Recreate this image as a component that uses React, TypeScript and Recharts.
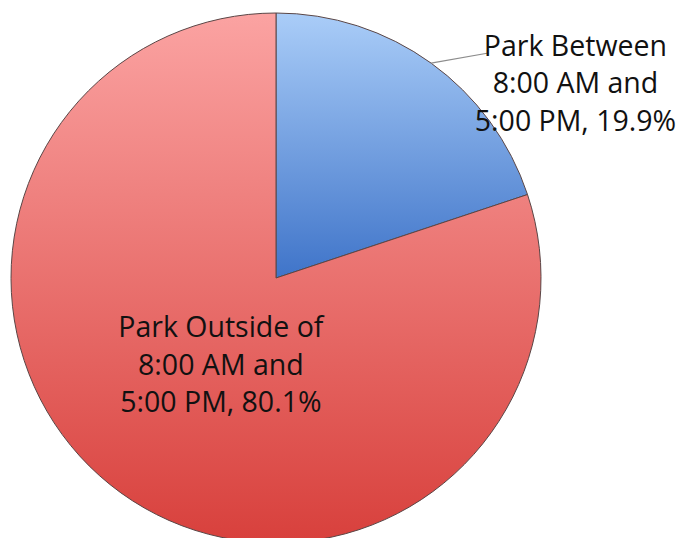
import React from 'react';
import { PieChart, Pie, Cell } from 'recharts';

const categories = ['Park Between 8:00 AM and 5:00 PM', 'Park Outside of 8:00 AM and 5:00 PM'];
const shares = [19.9, 80.1];
const labelLines = [
  ['Park Between', '8:00 AM and', '5:00 PM, 19.9%'],
  ['Park Outside of', '8:00 AM and', '5:00 PM, 80.1%'],
];
const gradients = [
  { id: 'blueFill', top: '#aacdf8', bottom: '#3f74c9' },
  { id: 'redFill', top: '#fba3a2', bottom: '#d8403c' },
];

const data = categories.map((name, i) => ({ name, value: shares[i] }));

// label offsets from the pie centre, in units of the outer radius
const labelPos = [
  { x: 1.13, y: -0.698 },
  { x: -0.208, y: 0.366 },
];

const RADIAN = Math.PI / 180;

function renderLabel(props: any) {
  const { cx, cy, outerRadius, midAngle, index } = props;
  const pos = labelPos[index];
  const tx = cx + pos.x * outerRadius;
  const ty = cy + pos.y * outerRadius;
  const lines = labelLines[index];
  const lineH = 37.5;
  let leader = null;
  if (index === 0) {
    const sx = cx + outerRadius * Math.cos(-midAngle * RADIAN);
    const sy = cy + outerRadius * Math.sin(-midAngle * RADIAN);
    leader = (
      <line x1={sx} y1={sy} x2={tx - 87} y2={ty - 40} stroke="#8c8c8c" strokeWidth={1.2} />
    );
  }
  return (
    <g>
      {leader}
      <text
        x={tx}
        y={ty}
        textAnchor="middle"
        fill="#111"
        fontSize={28.5}
        fontFamily="'Open Sans', sans-serif"
      >
        {lines.map((t, i) => (
          <tspan key={i} x={tx} y={ty + (i - 1) * lineH}>
            {t}
          </tspan>
        ))}
      </text>
    </g>
  );
}

export default function App() {
  return (
    <div style={{ position: 'absolute', left: 0, top: 0, background: '#fff' }}>
      <PieChart width={679} height={538} margin={{ top: 0, right: 0, bottom: 0, left: 0 }}>
        <defs>
          {gradients.map((g) => (
            <linearGradient key={g.id} id={g.id} x1="0" y1="0" x2="0" y2="1">
              <stop offset="0%" stopColor={g.top} />
              <stop offset="100%" stopColor={g.bottom} />
            </linearGradient>
          ))}
        </defs>
        <Pie
          data={data}
          dataKey="value"
          nameKey="name"
          cx={276}
          cy={278}
          outerRadius={265}
          startAngle={90}
          endAngle={-270}
          stroke="#5a4646"
          strokeWidth={1}
          label={renderLabel}
          labelLine={false}
          isAnimationActive={false}
        >
          {data.map((d, i) => (
            <Cell key={d.name} fill={`url(#${gradients[i].id})`} />
          ))}
        </Pie>
      </PieChart>
    </div>
  );
}
